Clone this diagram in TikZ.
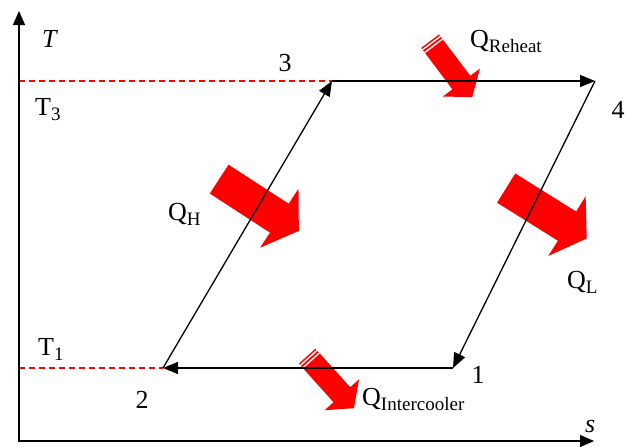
\documentclass[tikz,border=0pt]{standalone}
\usepackage{fontspec}
\setmainfont{Liberation Serif}
\usetikzlibrary{arrows.meta,shapes.arrows,calc}
\definecolor{heat}{HTML}{FF0000}
\newcommand{\qsub}[2]{#1\raisebox{-5pt}{\fontsize{19}{20}\selectfont #2}}

\begin{document}
\begin{tikzpicture}[x=1pt,y=-1pt,
    lbl/.style={font=\fontsize{26}{28}\selectfont,inner sep=0pt},
    bigheat/.style={single arrow,fill=heat,inner xsep=0pt,inner ysep=17pt,
      anchor=tail,minimum height=95pt,
      single arrow head extend=18pt,single arrow tip angle=113},
    smallheat/.style={single arrow,fill=heat,inner xsep=0pt,inner ysep=11pt,
      anchor=tail,minimum height=70pt,
      single arrow head extend=12pt,single arrow tip angle=104},
    cyc/.style={line width=1.3pt,-{Triangle[length=15pt,width=12pt]}},
    level/.style={heat,line width=1.3pt,dash pattern=on 6pt off 4pt}]
  \useasboundingbox (0,0) rectangle (625,447);
  % state points
  \coordinate (O) at (19,441);
  \coordinate (ytip) at (19,11);
  \coordinate (xtip) at (594,441);
  \coordinate (p1) at (453,368);
  \coordinate (p2) at (163,368);
  \coordinate (p3) at (332,81);
  \coordinate (p4) at (595,81);
  % heat arrows
  \node[bigheat,rotate=-33] (qh) at (219,179) {};
  \node[bigheat,rotate=-32] (ql) at (506,188) {};
  \node[smallheat,rotate=-53] (qr) at (430,41) {};
  \node[smallheat,rotate=-48] (qi) at (307,356) {};
  \foreach \h in {qr,qi}
    \foreach \d in {2.5pt,6pt}
      \draw[white,line width=1.4pt] ($(\h.tail)!\d!(\h.tip)!11.5pt!90:(\h.tip)$)
        -- ($(\h.tail)!\d!(\h.tip)!11.5pt!-90:(\h.tip)$);
  % axes and cycle
  \draw[level] (O |- p3) -- (p3);
  \draw[level] (O |- p2) -- (p2);
  \draw[line width=1.3pt,{Triangle[length=14pt,width=12pt]}-{Triangle[length=14pt,width=12pt]}]
    (ytip) -- (O) -- (xtip);
  \draw[cyc] (p2) -- (p3);
  \draw[cyc] (p3) -- (p4);
  \draw[cyc] (p4) -- (p1);
  \draw[cyc] (p1) -- (p2);
  % labels
  \node[lbl,anchor=base west] (T) at (42,47) {\itshape T};
  \node[lbl,anchor=base west] (s) at (585,432) {\itshape s};
  \node[lbl,anchor=base west] (T3) at (35,115) {\qsub{T}{3}};
  \node[lbl,anchor=base west] (T1) at (38,355) {\qsub{T}{1}};
  \node[lbl,anchor=base] (n1) at (478,383) {1};
  \node[lbl,anchor=base] (n2) at (142,408) {2};
  \node[lbl,anchor=base] (n3) at (285,71) {3};
  \node[lbl,anchor=base] (n4) at (618,118) {4};
  \node[lbl,anchor=base west] (QH) at (168,220) {\qsub{Q}{H}};
  \node[lbl,anchor=base west] (QL) at (567,288) {\qsub{Q}{L}};
  \node[lbl,anchor=base west] (QR) at (470,48) {\qsub{Q}{Reheat}};
  \node[lbl,anchor=base west] (QI) at (362,405) {\qsub{Q}{Intercooler}};
\end{tikzpicture}
\end{document}
